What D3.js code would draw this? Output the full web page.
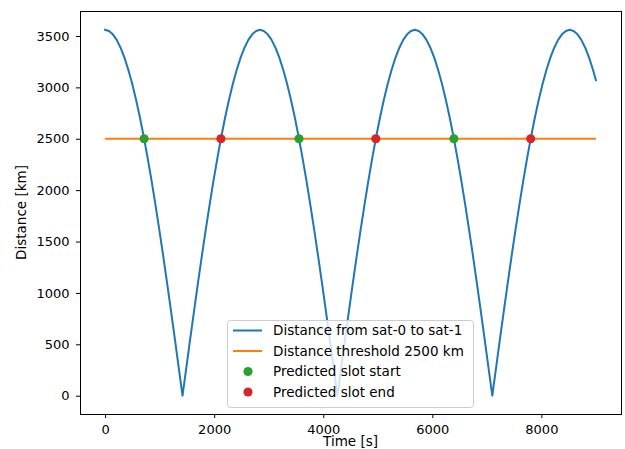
<!DOCTYPE html>
<html>
<head>
<meta charset="utf-8">
<script src="https://cdn.jsdelivr.net/npm/d3@7/dist/d3.min.js"></script>
<style>
  html, body { margin: 0; padding: 0; background: #ffffff; }
  svg { display: block; font-family: "DejaVu Sans", sans-serif; }
</style>
</head>
<body>
<svg id="chart" width="625" height="449"></svg>
<script>
// Sample times [s] of the inter-satellite distance
const times = [
  0, 71, 142, 213, 284, 355, 426, 497, 568, 639, 710, 781, 852, 923, 994, 1065, 1136, 1207, 1278, 1349,
  1420, 1491, 1562, 1633, 1704, 1775, 1846, 1917, 1988, 2059, 2130, 2201, 2272, 2343, 2414, 2485, 2556, 2627, 2698, 2769,
  2840, 2911, 2982, 3053, 3124, 3195, 3266, 3337, 3408, 3479, 3550, 3621, 3692, 3763, 3834, 3905, 3976, 4047, 4118, 4189,
  4260, 4331, 4402, 4473, 4544, 4615, 4686, 4757, 4828, 4899, 4970, 5041, 5112, 5183, 5254, 5325, 5396, 5467, 5538, 5609,
  5680, 5751, 5822, 5893, 5964, 6035, 6106, 6177, 6248, 6319, 6390, 6461, 6532, 6603, 6674, 6745, 6816, 6887, 6958, 7029,
  7100, 7171, 7242, 7313, 7384, 7455, 7526, 7597, 7668, 7739, 7810, 7881, 7952, 8023, 8094, 8165, 8236, 8307, 8378, 8449,
  8520, 8591, 8662, 8733, 8804, 8875, 8946, 9000
];

// Distance from sat-0 to sat-1 [km] at each sample time
const distances = [
  3560, 3549, 3516, 3462, 3386, 3289, 3172, 3035, 2880, 2707, 2517, 2312, 2093, 1860, 1616, 1362, 1100, 831, 557, 279,
  0, 279, 557, 831, 1100, 1362, 1616, 1860, 2093, 2312, 2517, 2707, 2880, 3035, 3172, 3289, 3386, 3462, 3516, 3549,
  3560, 3549, 3516, 3462, 3386, 3289, 3172, 3035, 2880, 2707, 2517, 2312, 2093, 1860, 1616, 1362, 1100, 831, 557, 279,
  0, 279, 557, 831, 1100, 1362, 1616, 1860, 2093, 2312, 2517, 2707, 2880, 3035, 3172, 3289, 3386, 3462, 3516, 3549,
  3560, 3549, 3516, 3462, 3386, 3289, 3172, 3035, 2880, 2707, 2517, 2312, 2093, 1860, 1616, 1362, 1100, 831, 557, 279,
  0, 279, 557, 831, 1100, 1362, 1616, 1860, 2093, 2312, 2517, 2707, 2880, 3035, 3172, 3289, 3386, 3462, 3516, 3549,
  3560, 3549, 3516, 3462, 3386, 3289, 3172, 3070
];

// Distance threshold line
const threshold = 2500;
const thresholdSpan = [0, 9000];

// Predicted communication slots (times where the distance crosses the threshold)
const slotStarts = [716, 3556, 6396];
const slotEnds = [2124, 4964, 7804];

// Axis ticks
const xTicks = [0, 2000, 4000, 6000, 8000];
const yTicks = [0, 500, 1000, 1500, 2000, 2500, 3000, 3500];

const labels = {
  series: "Distance from sat-0 to sat-1",
  threshold: "Distance threshold 2500 km",
  start: "Predicted slot start",
  end: "Predicted slot end",
  x: "Time [s]",
  y: "Distance [km]"
};

const colors = { blue: "#1f77b4", orange: "#ff7f0e", green: "#2ca02c", red: "#d62728" };

const plot = { left: 80, right: 621, top: 11, bottom: 414 };

const svg = d3.select("#chart");
svg.append("rect").attr("width", 625).attr("height", 449).attr("fill", "#ffffff");

const x = d3.scaleLinear().domain([-460, 9460]).range([plot.left, plot.right]);
const y = d3.scaleLinear().domain([-178, 3743]).range([plot.bottom, plot.top]);

const g = svg.append("g");
g.append("defs").append("clipPath").attr("id", "plot-clip")
  .append("rect")
  .attr("x", plot.left).attr("y", plot.top)
  .attr("width", plot.right - plot.left).attr("height", plot.bottom - plot.top);

const marks = g.append("g").attr("clip-path", "url(#plot-clip)");

// Distance curve
const series = times.map((t, i) => ({ t, d: distances[i] }));
const line = d3.line().x(p => x(p.t)).y(p => y(p.d));
marks.append("path")
  .datum(series)
  .attr("d", line)
  .attr("fill", "none")
  .attr("stroke", colors.blue)
  .attr("stroke-width", 2)
  .attr("stroke-linejoin", "round")
  .attr("stroke-linecap", "square");

// Threshold line
marks.append("path")
  .datum(thresholdSpan.map(t => ({ t, d: threshold })))
  .attr("d", line)
  .attr("fill", "none")
  .attr("stroke", colors.orange)
  .attr("stroke-width", 2);

// Slot markers
marks.selectAll("circle.start").data(slotStarts).enter()
  .append("circle").attr("class", "start")
  .attr("cx", t => x(t)).attr("cy", y(threshold)).attr("r", 4.6)
  .attr("fill", colors.green);
marks.selectAll("circle.end").data(slotEnds).enter()
  .append("circle").attr("class", "end")
  .attr("cx", t => x(t)).attr("cy", y(threshold)).attr("r", 4.6)
  .attr("fill", colors.red);

// Axes
const xAxis = g.append("g")
  .attr("transform", `translate(0,${plot.bottom})`)
  .call(d3.axisBottom(x).tickValues(xTicks).tickFormat(d3.format("d")).tickSize(4).tickPadding(7));
const yAxis = g.append("g")
  .attr("transform", `translate(${plot.left},0)`)
  .call(d3.axisLeft(y).tickValues(yTicks).tickFormat(d3.format("d")).tickSize(4).tickPadding(6.5));

[xAxis, yAxis].forEach(ax => {
  ax.select(".domain").remove();
  ax.selectAll(".tick line").attr("stroke", "#000").attr("stroke-width", 1);
  ax.selectAll(".tick text")
    .attr("fill", "#000")
    .style("font-family", "'DejaVu Sans', sans-serif")
    .style("font-size", "13px");
});

// Frame
g.append("rect")
  .attr("x", plot.left).attr("y", plot.top)
  .attr("width", plot.right - plot.left).attr("height", plot.bottom - plot.top)
  .attr("fill", "none").attr("stroke", "#000").attr("stroke-width", 1)
  .attr("shape-rendering", "crispEdges");

// Axis labels
svg.append("text")
  .attr("x", (plot.left + plot.right) / 2).attr("y", 446)
  .attr("text-anchor", "middle")
  .style("font-size", "13.5px")
  .attr("fill", "#000")
  .text(labels.x);
svg.append("text")
  .attr("transform", `translate(26,${(plot.top + plot.bottom) / 2}) rotate(-90)`)
  .attr("text-anchor", "middle")
  .style("font-size", "13.5px")
  .attr("fill", "#000")
  .text(labels.y);

// Legend
const legend = svg.append("g");
legend.append("rect")
  .attr("x", 227.5).attr("y", 320.5).attr("width", 246).attr("height", 87)
  .attr("rx", 3).attr("ry", 3)
  .attr("fill", "#ffffff").attr("fill-opacity", 0.8)
  .attr("stroke", "#cccccc").attr("stroke-width", 1);

const legendItems = [
  { label: labels.series, kind: "line", color: colors.blue },
  { label: labels.threshold, kind: "line", color: colors.orange },
  { label: labels.start, kind: "dot", color: colors.green },
  { label: labels.end, kind: "dot", color: colors.red }
];
const rowY = [330.5, 351, 371.5, 392];
legendItems.forEach((item, i) => {
  const ry = rowY[i];
  if (item.kind === "line") {
    legend.append("line")
      .attr("x1", 233).attr("x2", 262).attr("y1", ry).attr("y2", ry)
      .attr("stroke", item.color).attr("stroke-width", 2);
  } else {
    legend.append("circle")
      .attr("cx", 248).attr("cy", ry).attr("r", 4.6)
      .attr("fill", item.color);
  }
  legend.append("text")
    .attr("x", 273).attr("y", ry).attr("dy", "0.36em")
    .style("font-size", "13.5px")
    .attr("fill", "#000")
    .text(item.label);
});
</script>
</body>
</html>
